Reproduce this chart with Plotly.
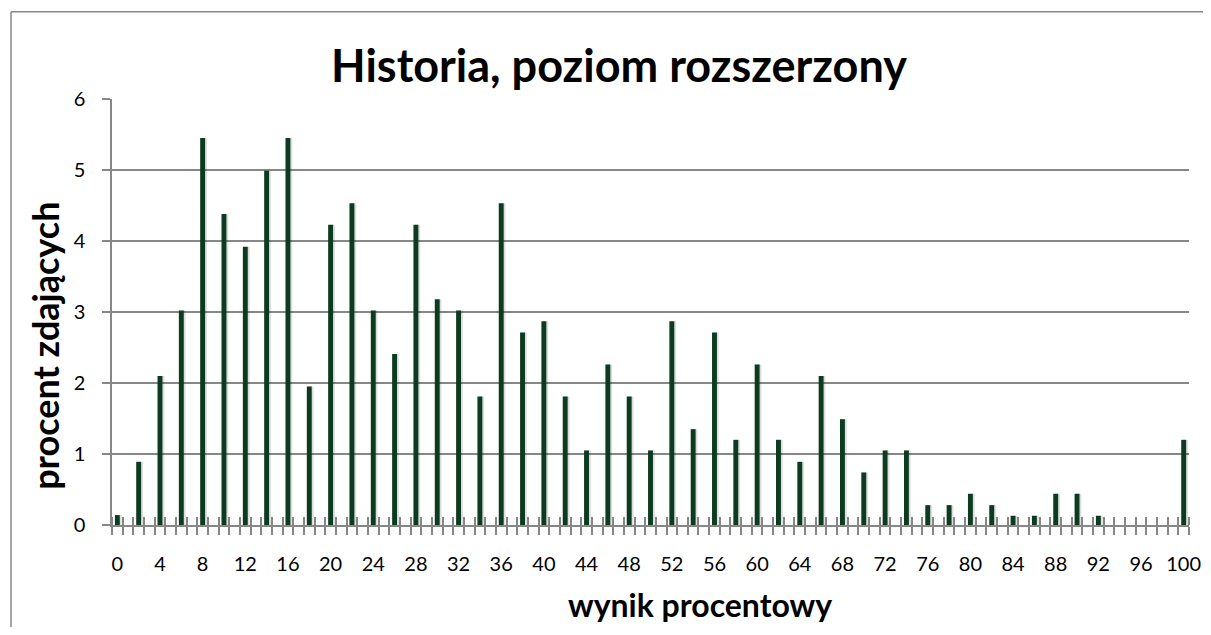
import plotly.graph_objects as go

scores = [0, 2, 4, 6, 8, 10, 12, 14, 16, 18, 20, 22, 24, 26, 28, 30, 32, 34, 36, 38,
          40, 42, 44, 46, 48, 50, 52, 54, 56, 58, 60, 62, 64, 66, 68, 70, 72, 74, 76, 78,
          80, 82, 84, 86, 88, 90, 92, 94, 96, 98, 100]
percent = [0.14, 0.89, 2.10, 3.02, 5.45, 4.38, 3.92, 4.99, 5.45, 1.95,
           4.23, 4.53, 3.02, 2.41, 4.23, 3.18, 3.02, 1.81, 4.53, 2.71,
           2.87, 1.81, 1.05, 2.26, 1.81, 1.05, 2.87, 1.35, 2.71, 1.20,
           2.26, 1.20, 0.89, 2.10, 1.49, 0.74, 1.05, 1.05, 0.28, 0.28,
           0.44, 0.28, 0.13, 0.13, 0.44, 0.44, 0.13, 0.0, 0.0, 0.0, 1.20]
x_tick_labels = ["0", "4", "8", "12", "16", "20", "24", "28", "32", "36", "40", "44", "48",
                 "52", "56", "60", "64", "68", "72", "76", "80", "84", "88", "92", "96", "100"]
x_tick_values = [int(t) for t in x_tick_labels]
y_ticks = [0, 1, 2, 3, 4, 5, 6]

title_text = "Historia, poziom rozszerzony"
x_title = "wynik procentowy"
y_title = "procent zdających"

FONT = "Lato"
GRAY = "#878787"
BAR = "#0c3a22"

# page body has an 8px margin; figure sized to fit inside the 1211x635 window
W, H = 1195, 619
OFF = 8
PL, PR, PT, PB = 112, 1189, 99.3, 525  # plot area in screen pixels
pw, ph = PR - PL, PB - PT

boundaries = [v - 0.5 for v in range(0, 102)]

fig = go.Figure()
fig.add_trace(go.Bar(x=scores, y=percent, width=0.46, offset=-0.05,
                     marker=dict(color="rgba(0,0,0,0.13)", line=dict(width=0)),
                     showlegend=False, hoverinfo="skip"))
fig.add_trace(go.Bar(x=scores, y=percent, width=0.46, offset=-0.23,
                     marker=dict(color=BAR, line=dict(width=0)), showlegend=False))
fig.add_trace(go.Scatter(x=[0], y=[0], xaxis="x2", mode="markers", marker=dict(opacity=0),
                         showlegend=False, hoverinfo="skip"))

fig.update_layout(
    width=W, height=H,
    margin=dict(l=PL - OFF, r=W - (PR - OFF), t=PT - OFF, b=H - (PB - OFF), pad=0, autoexpand=False),
    paper_bgcolor="white", plot_bgcolor="white",
    font=dict(family=FONT, color="black"),
    barmode="overlay",
    title=dict(text="<b>" + title_text + "</b>", x=(619 - OFF) / W, xanchor="center",
               y=1 - (66 - OFF) / H, yanchor="middle", font=dict(size=45, family=FONT, color="black")),
    xaxis=dict(range=[-0.5, 100.5], tickmode="array", tickvals=x_tick_values, ticktext=x_tick_labels,
               ticks="", showgrid=False, zeroline=False, showline=True, linecolor=GRAY, linewidth=1.5,
               automargin=False,
               tickfont=dict(size=20, family=FONT, color="black"), ticklabelstandoff=20,
               minor=dict(tickmode="array", tickvals=boundaries, ticks="outside", ticklen=8,
                          tickcolor=GRAY, tickwidth=1.5, showgrid=False)),
    xaxis2=dict(range=[-0.5, 100.5], overlaying="x", anchor="y", showticklabels=False,
                ticks="", showgrid=False, zeroline=False, showline=False, automargin=False,
                minor=dict(tickmode="array", tickvals=boundaries, ticks="inside", ticklen=8,
                           tickcolor=GRAY, tickwidth=1.5, showgrid=False)),
    yaxis=dict(range=[0, 6], tickmode="array", tickvals=y_ticks, ticks="outside", ticklen=8,
               tickcolor=GRAY, tickwidth=1.5, showgrid=True, gridcolor=GRAY, gridwidth=1.5,
               zeroline=False, showline=True, linecolor=GRAY, linewidth=1.5, automargin=False,
               tickfont=dict(size=20, family=FONT, color="black"), ticklabelstandoff=13),
    annotations=[
        dict(text="<b>" + x_title + "</b>", xref="paper", yref="paper",
             x=(700 - PL) / pw, y=(PB - 604) / ph, xanchor="center", yanchor="middle",
             showarrow=False, font=dict(size=32, family=FONT, color="black")),
        dict(text="<b>" + y_title + "</b>", xref="paper", yref="paper",
             x=(45 - PL) / pw, y=(PB - 346) / ph, xanchor="center", yanchor="middle",
             textangle=-90, showarrow=False, font=dict(size=36, family=FONT, color="black")),
    ],
    shapes=[
        dict(type="line", xref="paper", yref="paper",
             x0=(11 - PL) / pw, x1=(W + OFF - PL) / pw, y0=(PB - 12) / ph, y1=(PB - 12) / ph,
             line=dict(color=GRAY, width=1.5), layer="below"),
        dict(type="line", xref="paper", yref="paper",
             x0=(11 - PL) / pw, x1=(11 - PL) / pw, y0=(PB - 12) / ph, y1=(PB - (H + OFF)) / ph,
             line=dict(color=GRAY, width=1.5), layer="below"),
    ],
)

fig.write_html("out.html")
